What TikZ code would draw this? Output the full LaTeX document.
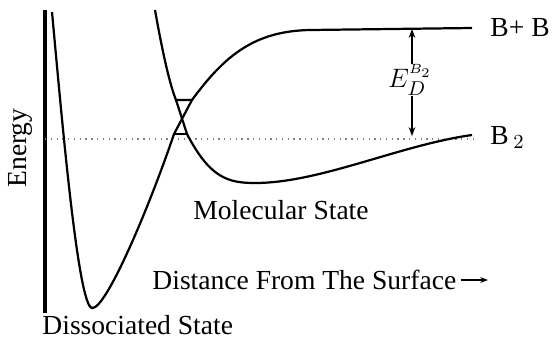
\documentclass[tikz,border=0pt]{standalone}
\usepackage{fontspec}
\setmainfont{Liberation Serif}
\usepackage{tikz}
\usetikzlibrary{arrows.meta}

\begin{document}
\begin{tikzpicture}[x=0.45pt,y=-0.45pt,
    curve/.style={line width=1pt},
    lbl/.style={font=\fontsize{12.4}{14}\selectfont,inner sep=0pt}]
    \useasboundingbox (0,0) rectangle (553,340);
    % axis and reference level
    \draw[line width=1.5pt] (45,10) -- (45,313);
    \draw[gray,dotted,line width=0.6pt] (45,139) -- (475,139);
    % dissociated well, rising to the crossing
    \draw[curve] (52,12) .. controls (62,120) and (78,306) .. (92,308)
        .. controls (106,310) and (150,205) .. (174,134) -- (192,100);
    % molecular well, from the crossing to B2
    \draw[curve] (176,100) -- (187,134) .. controls (210,178) and (228,183) .. (255,183)
        .. controls (320,183) and (400,145) .. (472,135);
    % upper branch to B+B
    \draw[curve] (155,10) .. controls (163,55) and (170,85) .. (176,100) -- (192,100)
        .. controls (225,55) and (255,31) .. (310,30) -- (472,28);
    \draw[curve] (174,134) -- (187,134);
    % labels
    \node[lbl,anchor=west] (bb) at (490,28) {B+ B};
    \node[lbl,anchor=west] (b2) at (490,137) {B\,$_2$};
    \node[lbl,rotate=90] (energy) at (20,148) {Energy};
    \node[lbl] (mol) at (281,210) {Molecular State};
    \node[lbl,anchor=west] (dist) at (152,280) {Distance From The Surface};
    \node[lbl,anchor=west] (diss) at (42,325) {Dissociated State};
    \node[lbl] (ed) at (410,80) {$E_D^{\scriptscriptstyle B_2}$};
    \coordinate (edtop) at (412,29);
    \coordinate (edbot) at (412,136);
    \coordinate (distend) at (488,280);
    % arrows
    \draw[-{Stealth[length=4pt]},line width=0.7pt] (ed.north -| edtop) -- (edtop);
    \draw[-{Stealth[length=4pt]},line width=0.7pt] (ed.south -| edbot) -- (edbot);
    \draw[-{Stealth[length=3.5pt]},line width=0.7pt] (dist.east) ++(4,0) -- (distend);
\end{tikzpicture}
\end{document}
